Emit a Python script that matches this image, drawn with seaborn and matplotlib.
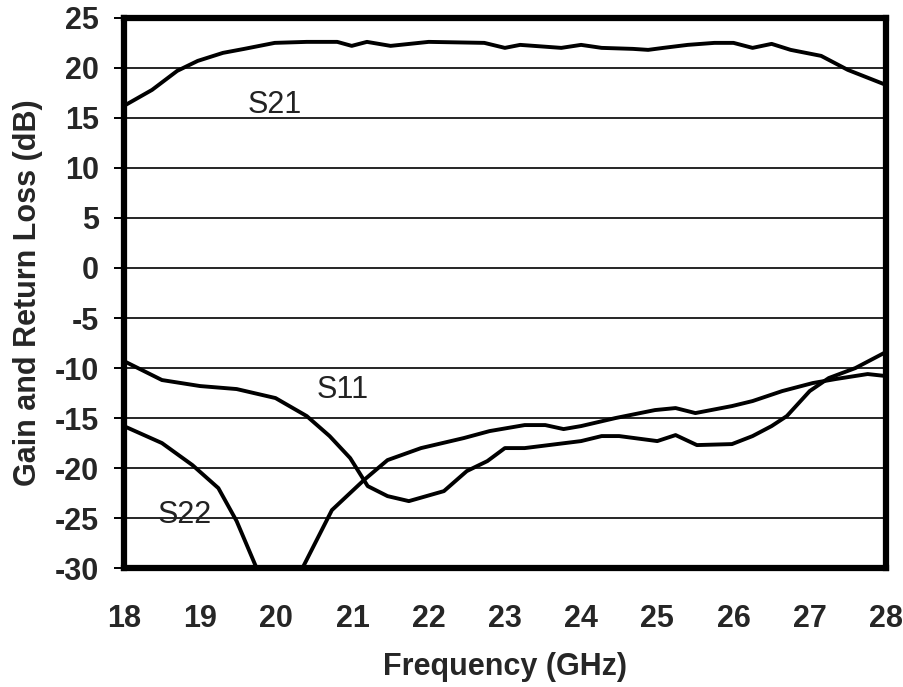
import pandas as pd
import matplotlib
matplotlib.use('Agg')
import matplotlib.pyplot as plt
import seaborn as sns

# S-parameter curves
s21_freq = [18.0, 18.37, 18.7, 18.97, 19.3, 19.58, 19.98, 20.4, 20.8, 20.99, 21.19, 21.5,
            22.0, 22.73, 23.0, 23.2, 23.74, 24.0, 24.27, 24.68, 24.88, 25.08, 25.4, 25.75,
            26.0, 26.25, 26.5, 26.75, 27.15, 27.5, 28.0]
s21_db = [16.2, 17.8, 19.7, 20.7, 21.5, 21.9, 22.5, 22.6, 22.6, 22.2, 22.6, 22.2,
          22.6, 22.5, 22.0, 22.3, 22.0, 22.3, 22.0, 21.9, 21.8, 22.0, 22.3, 22.5,
          22.5, 22.0, 22.4, 21.8, 21.2, 19.8, 18.3]

s11_freq = [18.0, 18.5, 19.0, 19.48, 19.99, 20.4, 20.7, 20.97, 21.2, 21.46, 21.74, 22.2,
            22.5, 22.77, 23.0, 23.26, 24.0, 24.27, 24.5, 25.0, 25.24, 25.52, 25.98, 26.25,
            26.5, 26.7, 27.0, 27.25, 27.6, 28.0]
s11_db = [-9.3, -11.2, -11.8, -12.1, -13.0, -14.8, -16.8, -19.0, -21.8, -22.8, -23.3, -22.3,
          -20.3, -19.3, -18.0, -18.0, -17.3, -16.8, -16.8, -17.3, -16.7, -17.7, -17.6, -16.8,
          -15.8, -14.8, -12.3, -11.0, -10.0, -8.4]

# S22 notch bottom is off the chart; -35 is a guess where the two branches meet
s22_freq = [18.0, 18.5, 18.9, 19.24, 19.48, 19.77, 20.03, 20.29, 20.73, 21.15, 21.46, 21.9,
            22.46, 22.8, 23.26, 23.53, 23.77, 24.0, 24.45, 24.97, 25.24, 25.5, 25.98, 26.25,
            26.64, 27.04, 27.34, 27.76, 28.0]
s22_db = [-15.8, -17.5, -19.7, -22.0, -25.3, -30.5, -35.0, -30.8, -24.2, -21.2, -19.2, -18.0,
          -17.0, -16.3, -15.7, -15.7, -16.1, -15.8, -15.0, -14.2, -14.0, -14.5, -13.8, -13.3,
          -12.3, -11.5, -11.1, -10.6, -10.8]

curve_labels = ['S21', 'S11', 'S22']
label_pos = [(19.98, 16.3), (20.87, -12.2), (18.8, -24.7)]

df = pd.concat([
    pd.DataFrame({'freq': s21_freq, 'db': s21_db, 'trace': 'S21'}),
    pd.DataFrame({'freq': s11_freq, 'db': s11_db, 'trace': 'S11'}),
    pd.DataFrame({'freq': s22_freq, 'db': s22_db, 'trace': 'S22'}),
])

sns.set_style('white')
plt.rcParams['font.family'] = ['Liberation Sans', 'DejaVu Sans']
plt.rcParams['axes.unicode_minus'] = False

fig = plt.figure(figsize=(9.04, 6.87), dpi=100)
ax = fig.add_axes([0.137, 0.173, 0.843, 0.801])

for y in range(-25, 25, 5):
    ax.axhline(y, color='black', lw=1.2, zorder=1)

sns.lineplot(data=df, x='freq', y='db', units='trace', estimator=None, sort=False,
             color='black', lw=2.8, ax=ax, zorder=3)

for name, (lx, ly) in zip(curve_labels, label_pos):
    ax.text(lx, ly, name, fontsize=22, color='#222222', ha='center', va='center', zorder=4)

ax.set_xlim(18, 28)
ax.set_ylim(-30, 25)
ax.set_xticks(range(18, 29))
ax.set_yticks(range(-30, 26, 5))

for side in ['left', 'right', 'top', 'bottom']:
    ax.spines[side].set_color('black')
    ax.spines[side].set_linewidth(4.5)
    ax.spines[side].set_visible(True)

ax.tick_params(axis='x', direction='inout', length=16, width=1.4, color='black',
               labelsize=22, pad=18)
ax.tick_params(axis='y', direction='out', length=7, width=1.4, color='black',
               labelsize=22, pad=11, left=True)
for lbl in ax.get_xticklabels() + ax.get_yticklabels():
    lbl.set_fontweight('bold')

ax.set_xlabel('Frequency (GHz)', fontsize=22, fontweight='bold', labelpad=13)
ax.set_ylabel('Gain and Return Loss (dB)', fontsize=22, fontweight='bold', labelpad=8)

fig.savefig('out.png', dpi=100)
